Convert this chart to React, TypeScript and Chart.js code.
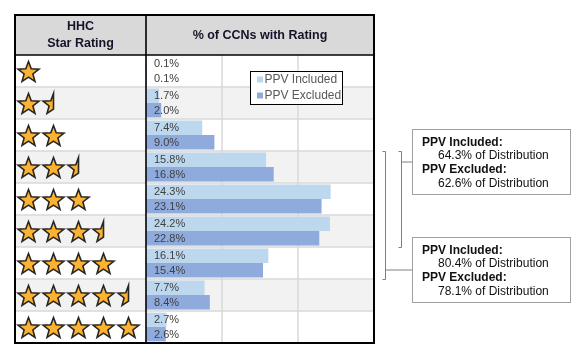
import React, { useEffect, useRef } from 'react';
import { Chart, registerables } from 'chart.js';

Chart.register(...registerables);

// ---------- data ----------
const starRatings = [1, 1.5, 2, 2.5, 3, 3.5, 4, 4.5, 5];
const categories = starRatings.map((s) => `${s} Star${s === 1 ? '' : 's'}`);
const seriesNames = ['PPV Included', 'PPV Excluded'];
const ppvIncluded = [0.1, 1.7, 7.4, 15.8, 24.3, 24.2, 16.1, 7.7, 2.7];
const ppvExcluded = [0.1, 2.0, 9.0, 16.8, 23.1, 22.8, 15.4, 8.4, 2.6];
const xMax = 30;
const gridValues = [10, 20];
const headerLeft = ['HHC', 'Star Rating'];
const headerRight = '% of CCNs with Rating';
// annotation groups: first / last category index covered
const groupFrom = [3, 3];
const groupTo = [5, 6];
const groupIncluded = [64.3, 80.4];
const groupExcluded = [62.6, 78.1];

// ---------- styles ----------
const W = 576;
const H = 359;
const FONT = '"Liberation Sans", Arial, sans-serif';
const COLORS = ['#BDD7EE', '#8FAADC'];
const TABLE_LEFT = 15;
const TABLE_TOP = 15;

function starPoints(cx: number, cy: number, R: number, r: number) {
  const pts: [number, number][] = [];
  for (let k = 0; k < 10; k++) {
    const a = -Math.PI / 2 + (k * Math.PI) / 5;
    const rad = k % 2 === 0 ? R : r;
    pts.push([cx + rad * Math.cos(a), cy + rad * Math.sin(a)]);
  }
  return pts;
}

function drawStar(ctx: CanvasRenderingContext2D, cx: number, cy: number, R: number, half: boolean) {
  const pts = starPoints(cx, cy, R, R * 0.42);
  ctx.beginPath();
  if (!half) {
    pts.forEach((p, i) => (i === 0 ? ctx.moveTo(p[0], p[1]) : ctx.lineTo(p[0], p[1])));
  } else {
    const order = [5, 6, 7, 8, 9, 0];
    order.forEach((k, i) => (i === 0 ? ctx.moveTo(pts[k][0], pts[k][1]) : ctx.lineTo(pts[k][0], pts[k][1])));
  }
  ctx.closePath();
  ctx.fillStyle = '#FBB331';
  ctx.fill();
  ctx.strokeStyle = '#262626';
  ctx.lineWidth = 1.6;
  ctx.lineJoin = 'miter';
  ctx.stroke();
}

function line(ctx: CanvasRenderingContext2D, x1: number, y1: number, x2: number, y2: number) {
  ctx.beginPath();
  ctx.moveTo(x1, y1);
  ctx.lineTo(x2, y2);
  ctx.stroke();
}

const tablePlugin = {
  id: 'tableDecor',
  beforeDraw(chart: any) {
    const { ctx, chartArea: ca, scales } = chart;
    const x = scales.x;
    const y = scales.y;
    const half = (y.getPixelForValue(1) - y.getPixelForValue(0)) / 2;
    ctx.save();
    ctx.fillStyle = '#ffffff';
    ctx.fillRect(0, 0, W, H);
    ctx.fillStyle = '#d9d9d9';
    ctx.fillRect(TABLE_LEFT, TABLE_TOP, ca.right - TABLE_LEFT, ca.top - TABLE_TOP);
    categories.forEach((_, i) => {
      if (i % 2 === 1) {
        const yc = y.getPixelForValue(i);
        ctx.fillStyle = '#f2f2f2';
        ctx.fillRect(TABLE_LEFT, yc - half, ca.right - TABLE_LEFT, 2 * half);
      }
    });
    ctx.strokeStyle = '#d9d9d9';
    ctx.lineWidth = 1.5;
    gridValues.forEach((v) => {
      const px = x.getPixelForValue(v);
      line(ctx, px, ca.top, px, ca.bottom);
    });
    for (let i = 0; i < categories.length - 1; i++) {
      const yb = y.getPixelForValue(i) + half;
      line(ctx, TABLE_LEFT, yb, ca.right, yb);
    }
    ctx.restore();
  },
  afterDatasetsDraw(chart: any) {
    const { ctx } = chart;
    ctx.save();
    ctx.font = `11px ${FONT}`;
    ctx.fillStyle = '#404040';
    ctx.textAlign = 'left';
    ctx.textBaseline = 'middle';
    chart.data.datasets.forEach((ds: any, di: number) => {
      const meta = chart.getDatasetMeta(di);
      meta.data.forEach((bar: any, i: number) => {
        const p = bar.getProps(['y', 'base'], true);
        ctx.fillText(`${Number(ds.data[i]).toFixed(1)}%`, p.base + 8, p.y + 0.5);
      });
    });
    ctx.restore();
  },
  afterDraw(chart: any) {
    const { ctx, chartArea: ca, scales } = chart;
    const y = scales.y;
    const half = (y.getPixelForValue(1) - y.getPixelForValue(0)) / 2;
    ctx.save();

    // borders
    ctx.strokeStyle = '#000';
    ctx.lineWidth = 2;
    ctx.strokeRect(TABLE_LEFT, TABLE_TOP, ca.right - TABLE_LEFT, ca.bottom - TABLE_TOP);
    ctx.lineWidth = 1.6;
    line(ctx, ca.left, TABLE_TOP, ca.left, ca.bottom);
    ctx.lineWidth = 1.3;
    line(ctx, TABLE_LEFT, ca.top, ca.right, ca.top);

    // header text
    ctx.fillStyle = '#141428';
    ctx.font = `bold 12.5px ${FONT}`;
    ctx.textAlign = 'center';
    ctx.textBaseline = 'middle';
    const lcx = (TABLE_LEFT + ca.left) / 2;
    ctx.fillText(headerLeft[0], lcx, 27);
    ctx.fillText(headerLeft[1], lcx, 44);
    ctx.fillText(headerRight, (ca.left + ca.right) / 2, 35.5);

    // stars
    starRatings.forEach((s, i) => {
      const yc = y.getPixelForValue(i) + 1.5;
      const full = Math.floor(s);
      for (let k = 0; k < full; k++) drawStar(ctx, 28.5 + 25 * k, yc, 11, false);
      if (s - full > 0) drawStar(ctx, 28.5 + 25 * full, yc, 11, true);
    });

    // legend
    const lx = 250;
    const ly = 71;
    ctx.fillStyle = '#fff';
    ctx.fillRect(lx, ly, 92, 33);
    ctx.strokeStyle = '#000';
    ctx.lineWidth = 1;
    ctx.strokeRect(lx + 0.5, ly + 0.5, 92, 33);
    ctx.font = `12px ${FONT}`;
    ctx.textAlign = 'left';
    ctx.textBaseline = 'middle';
    seriesNames.forEach((name, i) => {
      const cy = ly + 8.5 + i * 16;
      ctx.fillStyle = COLORS[i];
      ctx.fillRect(lx + 7, cy - 3, 6, 6);
      ctx.fillStyle = '#595959';
      ctx.fillText(name, lx + 14.5, cy);
    });

    // brackets + boxes
    ctx.strokeStyle = '#808080';
    ctx.lineWidth = 1;
    const bracketX = [401.5, 385.5];
    const connectorOffsets = [10.5, -9.5];
    groupFrom.forEach((from, g) => {
      const top = Math.round(y.getPixelForValue(from) - half) + 0.5;
      const bottom = Math.round(y.getPixelForValue(groupTo[g]) + half) + 0.5;
      const bx = bracketX[g];
      ctx.beginPath();
      ctx.moveTo(bx - 3, top);
      ctx.lineTo(bx, top);
      ctx.lineTo(bx, bottom);
      ctx.lineTo(bx - 3, bottom);
      ctx.stroke();
      const cy = connectorOffsets[g] > 0 ? top + connectorOffsets[g] : bottom + connectorOffsets[g];
      line(ctx, bx, cy, 412, cy);
      const boxTop = Math.round(cy - 33) + 0.5;
      ctx.strokeStyle = '#a0a0a0';
      ctx.strokeRect(412.5, boxTop, 158, 65);
      ctx.strokeStyle = '#808080';
      ctx.fillStyle = '#111';
      ctx.textBaseline = 'middle';
      ctx.font = `bold 12px ${FONT}`;
      ctx.fillText('PPV Included:', 422, boxTop + 13);
      ctx.fillText('PPV Excluded:', 422, boxTop + 40.5);
      ctx.font = `12px ${FONT}`;
      ctx.fillText(`${groupIncluded[g].toFixed(1)}% of Distribution`, 438, boxTop + 26.5);
      ctx.fillText(`${groupExcluded[g].toFixed(1)}% of Distribution`, 438, boxTop + 54);
    });

    ctx.restore();
  },
};

export default function App() {
  const canvasRef = useRef<HTMLCanvasElement | null>(null);

  useEffect(() => {
    document.body.style.margin = '0';
    const canvas = canvasRef.current;
    if (!canvas) return;
    const chart = new Chart(canvas, {
      type: 'bar',
      data: {
        labels: categories,
        datasets: [
          { label: seriesNames[0], data: ppvIncluded, backgroundColor: COLORS[0], borderWidth: 0 },
          { label: seriesNames[1], data: ppvExcluded, backgroundColor: COLORS[1], borderWidth: 0 },
        ],
      },
      options: {
        indexAxis: 'y',
        animation: false,
        responsive: false,
        devicePixelRatio: 1,
        layout: { padding: { left: 146, right: W - 374, top: 55, bottom: H - 343 } },
        datasets: { bar: { categoryPercentage: 0.9, barPercentage: 1.0 } },
        scales: {
          x: { display: false, min: 0, max: xMax },
          y: { display: false },
        },
        plugins: {
          legend: { display: false },
          tooltip: { enabled: false },
        },
      },
      plugins: [tablePlugin],
    });
    return () => chart.destroy();
  }, []);

  return (
    <div style={{ position: 'absolute', left: 0, top: 0, width: W, height: H }}>
      <canvas ref={canvasRef} width={W} height={H} style={{ display: 'block' }} />
    </div>
  );
}
